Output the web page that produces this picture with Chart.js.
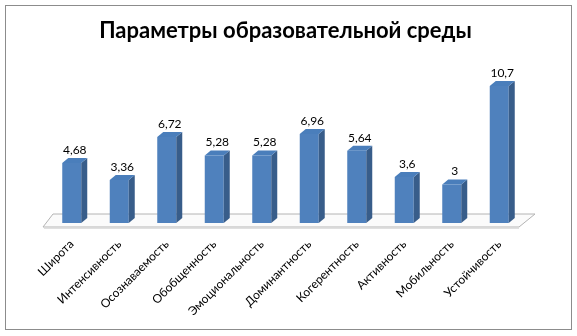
<!DOCTYPE html>
<html>
<head>
<meta charset="utf-8">
<script src="https://cdn.jsdelivr.net/npm/chart.js@4"></script>
<style>
  body { margin: 0; background: #fff; }
  #wrap { width: 577px; height: 336px; }
</style>
</head>
<body>
<div id="wrap"><canvas id="myChart" width="577" height="336"></canvas></div>
<script>
// data
const categories = ['Широта', 'Интенсивность', 'Осознаваемость', 'Обобщенность', 'Эмоциональность',
  'Доминантность', 'Когерентность', 'Активность', 'Мобильность', 'Устойчивость'];
const values = [4.68, 3.36, 6.72, 5.28, 5.28, 6.96, 5.64, 3.6, 3, 10.7];
const chartTitle = 'Параметры образовательной среды';

// border round the whole picture + the 3d floor
const frame = {
  id: 'frame',
  beforeDraw(chart) {
    const ctx = chart.ctx;
    const a = chart.chartArea;
    ctx.save();
    ctx.fillStyle = '#fff';
    ctx.fillRect(0, 0, chart.width, chart.height);
    ctx.strokeStyle = '#8c8c8c';
    ctx.lineWidth = 1;
    ctx.strokeRect(5.5, 5.5, 566, 324);
    // floor
    const b = a.bottom;
    ctx.beginPath();
    ctx.moveTo(a.left - 5, b + 4);
    ctx.lineTo(a.right - 4, b + 4);
    ctx.lineTo(a.right + 12, b - 9);
    ctx.lineTo(a.left + 5, b - 9);
    ctx.closePath();
    ctx.fillStyle = '#fbfbfb';
    ctx.fill();
    ctx.strokeStyle = '#b4b4b4';
    ctx.stroke();
    ctx.strokeStyle = 'rgba(0,0,0,0.12)';
    ctx.beginPath();
    ctx.moveTo(a.left - 4, b + 5.5);
    ctx.lineTo(a.right - 4, b + 5.5);
    ctx.stroke();
    ctx.restore();
  }
};

// side and top faces of the bars, and value labels
const depth = {
  id: 'depth',
  afterDatasetsDraw(chart) {
    const ctx = chart.ctx;
    const meta = chart.getDatasetMeta(0);
    const dx = 6, dy = -5;
    ctx.save();
    meta.data.forEach((bar, i) => {
      const l = bar.x - bar.width / 2, r = bar.x + bar.width / 2;
      const t = bar.y, bt = bar.base;
      // side
      ctx.fillStyle = '#385d8a';
      ctx.beginPath();
      ctx.moveTo(r, t);
      ctx.lineTo(r + dx, t + dy);
      ctx.lineTo(r + dx, bt + dy);
      ctx.lineTo(r, bt);
      ctx.closePath();
      ctx.fill();
      // top
      ctx.fillStyle = '#4a7ebb';
      ctx.beginPath();
      ctx.moveTo(l, t);
      ctx.lineTo(l + dx, t + dy);
      ctx.lineTo(r + dx, t + dy);
      ctx.lineTo(r, t);
      ctx.closePath();
      ctx.fill();
      // label
      ctx.fillStyle = '#000';
      ctx.font = '12px Lato';
      ctx.textAlign = 'center';
      ctx.textBaseline = 'middle';
      ctx.fillText(String(values[i]).replace('.', ','), bar.x + 3, t - 13);
    });
    ctx.restore();
  }
};

const ctx = document.getElementById('myChart').getContext('2d');

const chart = new Chart(ctx, {
  type: 'bar',
  data: {
    labels: categories,
    datasets: [{
      data: values,
      backgroundColor: '#4f81bd',
      borderWidth: 0,
      categoryPercentage: 1,
      barPercentage: 0.4
    }]
  },
  options: {
    responsive: false,
    animation: false,
    layout: { padding: { left: 48, right: 54, top: 0, bottom: 0 } },
    plugins: {
      legend: { display: false },
      tooltip: { enabled: false },
      title: {
        display: true,
        text: chartTitle,
        color: '#000',
        font: { family: 'Lato', size: 22, weight: 'bold' },
        padding: { top: 18, bottom: 25 }
      }
    },
    scales: {
      x: {
        grid: { display: false },
        border: { display: false },
        ticks: {
          color: '#000',
          font: { family: 'Lato', size: 12 },
          minRotation: 45,
          maxRotation: 45,
          padding: 6
        },
        afterFit(scale) { scale.height = 113; }
      },
      y: {
        display: false,
        min: 0,
        max: 12
      }
    }
  },
  plugins: [frame, depth]
});
</script>
</body>
</html>
